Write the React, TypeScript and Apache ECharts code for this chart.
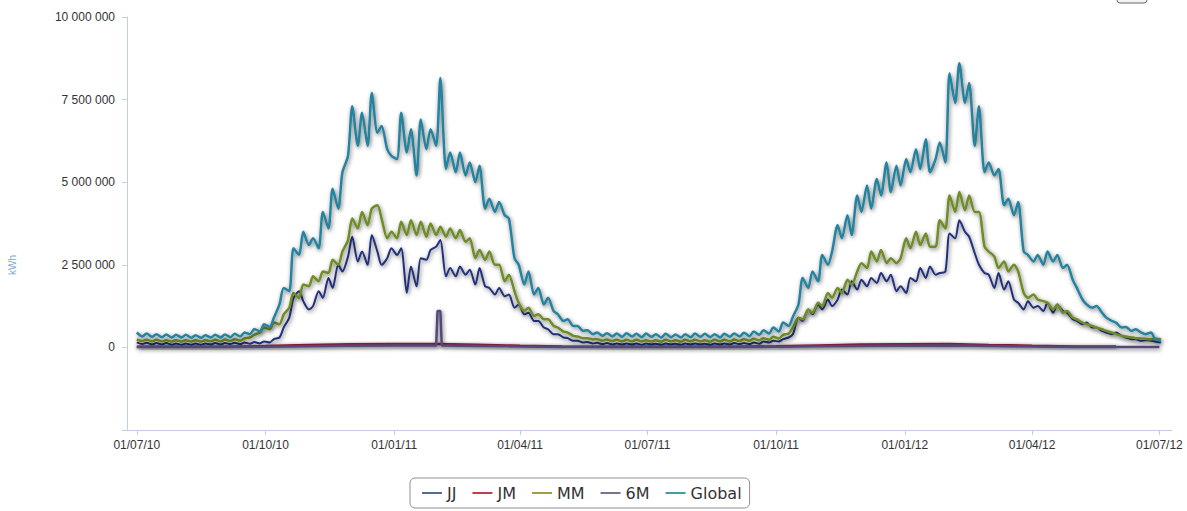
import React, { useEffect, useRef } from "react";
import * as echarts from "echarts";

const DAY = 86400000;
const START = Date.UTC(2010, 6, 1);

const seriesNames = ["JJ", "JM", "MM", "6M", "Global"];
const seriesColors = ["#23307a", "#8e1a38", "#6f8c26", "#55467a", "#2883a0"];
const legendColors = ["#5a6898", "#c43a52", "#a49c40", "#80728e", "#3aa0a8"];

const xTickLabels = [
  "01/07/10", "01/10/10", "01/01/11", "01/04/11", "01/07/11",
  "01/10/11", "01/01/12", "01/04/12", "01/07/12",
];

// Sample dates (two per week: weekday / weekend) for JJ, MM, Global
const sampleDates: number[] = Array.from({ length: 210 }, (_, i) => START + Math.round(i * 3.5) * DAY);

// values in thousands of kWh
const globalK = [
  450, 330, 420, 320, 400, 310, 390, 300, 380, 300,
  380, 290, 370, 290, 370, 300, 380, 300, 390, 310,
  410, 330, 450, 400, 560, 480, 700, 620, 900, 1300,
  1800, 1700, 3000, 2800, 3500, 3100, 3300, 3000, 4100, 3600,
  4800, 4200, 5300, 5800, 7300, 6100, 7100, 6100, 7700, 6500,
  6700, 6000, 5800, 5700, 7100, 5900, 6600, 5200, 6900, 6000,
  6600, 6100, 8150, 5400, 5900, 5300, 5900, 5200, 5600, 5000,
  5500, 4200, 4500, 4100, 4400, 4000, 3900, 2700, 2500, 1900,
  2300, 1600, 1800, 1300, 1500, 1100, 1000, 800, 850, 650,
  650, 500, 520, 400, 450, 350, 430, 330, 420, 320,
  430, 330, 410, 310, 420, 320, 400, 300, 410, 310,
  390, 300, 400, 310, 420, 320, 410, 310, 400, 300,
  410, 320, 420, 330, 440, 340, 480, 380, 520, 420,
  600, 480, 750, 650, 930, 1300, 2100, 1800, 2300, 2000,
  2800, 2500, 2900, 3700, 3300, 4000, 3400, 4600, 4100, 4900,
  4200, 5100, 4600, 5600, 4700, 5500, 4900, 5700, 5300, 6000,
  5400, 6300, 5300, 5700, 6200, 5600, 8300, 7400, 8600, 7400,
  8000, 6100, 7300, 5300, 5600, 5200, 5400, 4300, 4500, 4000,
  4400, 2900, 2800, 2600, 2800, 2500, 2900, 2600, 2800, 2400,
  2500, 2050, 1800, 1450, 1300, 1200, 1250, 1050, 900, 800,
  750, 600, 620, 500, 550, 450, 400, 450, 250, 200,
];

const jjK = [
  150, 100, 140, 90, 130, 90, 130, 80, 120, 80,
  120, 80, 120, 80, 120, 90, 130, 90, 130, 100,
  140, 100, 150, 110, 160, 120, 180, 150, 250, 300,
  600, 900, 1500, 1700, 1400, 1150, 1250, 1700, 1500, 2100,
  1800, 2500, 2300, 2750, 3350, 2600, 2900, 2500, 3400, 2900,
  2500, 2700, 3000, 2800, 3000, 1650, 2450, 1850, 2700, 2650,
  2950, 3050, 3250, 2150, 2400, 2150, 2450, 2200, 2350, 1900,
  2400, 1850, 1800, 1600, 1800, 1550, 1600, 1200, 1300, 1000,
  1050, 800, 800, 600, 550, 400, 400, 300, 280, 200,
  200, 150, 160, 120, 140, 100, 130, 90, 120, 90,
  120, 90, 120, 80, 120, 90, 110, 80, 120, 90,
  110, 80, 120, 90, 120, 90, 110, 80, 120, 90,
  120, 90, 130, 100, 130, 100, 150, 110, 180, 150,
  200, 180, 250, 300, 400, 900, 800, 1150, 1000, 1300,
  1150, 1450, 1250, 1450, 1750, 1600, 2000, 1750, 2050, 1850,
  2100, 1950, 2250, 2000, 2200, 1700, 1850, 1650, 2100, 2000,
  2400, 2100, 2450, 2200, 2250, 2300, 3450, 3300, 3850, 3500,
  3350, 2850, 2500, 2250, 2200, 1800, 2250, 1750, 2000, 1450,
  1350, 1150, 1400, 1200, 1250, 1100, 1350, 1050, 1300, 1100,
  1050, 850, 800, 700, 750, 600, 600, 500, 450, 400,
  450, 350, 300, 250, 250, 200, 220, 200, 180, 150,
];

const mmK = [
  240, 190, 230, 180, 230, 180, 220, 170, 220, 170,
  220, 170, 220, 170, 220, 180, 230, 180, 240, 190,
  250, 200, 270, 300, 380, 450, 600, 550, 750, 700,
  1000, 1200, 1650, 1500, 1900, 1850, 2150, 2000, 2300, 2250,
  2650, 2500, 2900, 3250, 3900, 3600, 4100, 3700, 4200, 4300,
  3900, 3300, 3500, 3300, 3800, 3400, 3850, 3400, 3800, 3350,
  3750, 3400, 3650, 3350, 3600, 3300, 3550, 3200, 3300, 2700,
  2950, 2650, 2900, 2500, 2500, 2000, 2200, 1700, 1350, 1100,
  1200, 950, 1000, 850, 850, 650, 600, 480, 450, 350,
  330, 280, 280, 240, 250, 200, 240, 190, 230, 180,
  230, 180, 230, 180, 220, 170, 220, 170, 230, 180,
  220, 170, 230, 180, 230, 180, 220, 170, 230, 180,
  230, 180, 240, 190, 250, 200, 260, 210, 280, 230,
  320, 270, 380, 420, 600, 900, 850, 1150, 1050, 1350,
  1250, 1650, 1500, 1800, 1650, 2050, 1900, 2300, 2550, 2400,
  2900, 2600, 2950, 2550, 2700, 2550, 2700, 3300, 3000, 3500,
  3100, 3450, 3050, 3050, 3850, 3600, 4600, 4100, 4700, 4150,
  4600, 4100, 4100, 3050, 2900, 2750, 2400, 2600, 2300, 2500,
  2300, 1650, 1500, 1600, 1450, 1400, 1350, 1150, 1300, 1050,
  1100, 900, 850, 750, 700, 650, 600, 550, 500, 450,
  400, 350, 330, 300, 280, 270, 260, 250, 260, 250,
];

const jmDates = [
  "2010-07-01", "2010-08-01", "2010-09-01", "2010-10-01", "2010-11-01", "2010-12-01",
  "2011-01-01", "2011-02-01", "2011-03-01", "2011-04-01", "2011-05-01", "2011-06-01",
  "2011-07-01", "2011-08-01", "2011-09-01", "2011-10-01", "2011-11-01", "2011-12-01",
  "2012-01-01", "2012-02-01", "2012-03-01", "2012-04-01", "2012-05-01", "2012-05-31",
];
const jmK = [20, 18, 22, 40, 70, 95, 105, 100, 80, 50, 28, 20, 18, 18, 20, 35, 60, 85, 95, 100, 75, 50, 30, 25];

const sixMDates = [
  "2010-07-01", "2010-08-01", "2010-09-01", "2010-10-01", "2010-11-01", "2010-12-01",
  "2011-01-01", "2011-01-31", "2011-02-01", "2011-02-03", "2011-02-04", "2011-03-01",
  "2011-04-01", "2011-05-01", "2011-06-01", "2011-07-01", "2011-08-01", "2011-09-01",
  "2011-10-01", "2011-11-01", "2011-12-01", "2012-01-01", "2012-02-01", "2012-03-01",
  "2012-04-01", "2012-05-01", "2012-06-01", "2012-07-01",
];
const sixMK = [10, 10, 12, 20, 35, 50, 55, 55, 1100, 1100, 55, 45, 30, 15, 10, 10, 10, 12, 20, 35, 45, 50, 55, 40, 25, 15, 10, 10];

function parseIso(s: string): number {
  const [y, m, d] = s.split("-").map(Number);
  return Date.UTC(y, m - 1, d);
}
function parseTick(s: string): number {
  const [d, m, y] = s.split("/").map(Number);
  return Date.UTC(2000 + y, m - 1, d);
}
const tickValues = xTickLabels.map(parseTick);

function fmtThousands(v: number): string {
  return String(Math.round(v)).replace(/\B(?=(\d{3})+(?!\d))/g, " ");
}

const shadow = {
  shadowColor: "rgba(0,0,0,0.55)",
  shadowBlur: 4,
  shadowOffsetX: 1,
  shadowOffsetY: 1.5,
};

export default function App() {
  const ref = useRef<HTMLDivElement>(null);
  useEffect(() => {
    if (!ref.current) return;
    const chart = echarts.init(ref.current, undefined, { renderer: "svg" });

    const mainData = (arr: number[]) => arr.map((v, i) => [sampleDates[i], v * 1000]);
    const datedData = (dates: string[], arr: number[]) => arr.map((v, i) => [parseIso(dates[i]), v * 1000]);

    const dataByName: Record<string, number[][]> = {
      JJ: mainData(jjK),
      JM: datedData(jmDates, jmK),
      MM: mainData(mmK),
      "6M": datedData(sixMDates, sixMK),
      Global: mainData(globalK),
    };

    const option: any = {
      animation: false,
      backgroundColor: "#ffffff",
      grid: { left: 127, right: 15, top: 17, bottom: 81, containLabel: false, outerBoundsMode: "none" },
      legend: {
        left: 410,
        top: 478,
        data: seriesNames.map((n, k) => ({ name: n, itemStyle: { color: legendColors[k] } })),
        icon: "rect",
        itemWidth: 20,
        itemHeight: 2,
        itemGap: 16,
        padding: [7, 8, 7, 12],
        borderColor: "#909090",
        borderWidth: 1,
        borderRadius: 5,
        textStyle: { fontFamily: "DejaVu Sans", fontSize: 16, color: "#333333" },
      },
      xAxis: {
        type: "value",
        min: START - 7 * DAY,
        max: START + 740 * DAY,
        axisLine: { show: true, onZero: false, lineStyle: { color: "#c0d0e0", width: 1 } },
        axisTick: { show: true, length: 5, customValues: tickValues, lineStyle: { color: "#c0d0e0" } },
        axisLabel: {
          customValues: tickValues,
          margin: 9,
          fontFamily: "Liberation Sans, Arial, sans-serif",
          fontSize: 12,
          color: "#333333",
          showMinLabel: true,
          showMaxLabel: true,
          formatter: (v: number) => {
            const idx = tickValues.findIndex((t) => Math.abs(t - v) < DAY / 2);
            return idx >= 0 ? xTickLabels[idx] : "";
          },
        },
        splitLine: { show: false },
      },
      yAxis: {
        type: "value",
        min: -2500000,
        max: 10000000,
        interval: 2500000,
        axisLine: { show: true, lineStyle: { color: "#c0d0e0", width: 1 } },
        axisTick: { show: true, length: 5, lineStyle: { color: "#c0d0e0" } },
        axisLabel: {
          margin: 12,
          fontFamily: "Liberation Sans, Arial, sans-serif",
          fontSize: 12,
          color: "#333333",
          formatter: (v: number) => (v < 0 ? "" : fmtThousands(v)),
        },
        splitLine: { show: false },
      },
      graphic: [
        {
          type: "text",
          x: 12,
          y: 265,
          rotation: Math.PI / 2,
          style: {
            text: "kWh",
            fill: "#86a6cf",
            font: "10px Liberation Sans, Arial, sans-serif",
            textAlign: "center",
            textVerticalAlign: "middle",
          },
        },
        {
          type: "rect",
          shape: { x: 1117, y: -20, width: 30, height: 23, r: 3 },
          style: { fill: "#f4f4f4", stroke: "#666666", lineWidth: 1 },
        },
      ],
      series: seriesNames.map((name, k) => ({
        type: "line",
        name,
        data: dataByName[name],
        showSymbol: false,
        symbol: "none",
        smooth: name === "JM" || name === "6M" ? false : 0.25,
        color: seriesColors[k],
        lineStyle: { width: name === "JJ" ? 2 : 2.5, color: seriesColors[k], ...shadow },
        emphasis: { disabled: true },
        z: 2 + k,
      })),
    };
    chart.setOption(option);
    return () => chart.dispose();
  }, []);

  return (
    <div
      ref={ref}
      style={{ position: "fixed", left: 0, top: 0, width: 1187, height: 511, background: "#fff" }}
    />
  );
}
